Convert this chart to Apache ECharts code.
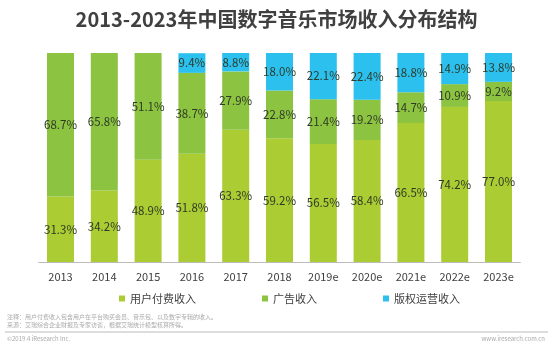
<!DOCTYPE html>
<html><head><meta charset="utf-8">
<script src="https://cdn.jsdelivr.net/npm/echarts@6/dist/echarts.min.js"></script>
<style>html,body{margin:0;padding:0;background:#fff}#c{width:553px;height:347px}</style>
</head><body><div id="c"></div>
<script>
var categories = ['2013','2014','2015','2016','2017','2018','2019e','2020e','2021e','2022e','2023e'];
var userPay = [31.3,34.2,48.9,51.8,63.3,59.2,56.5,58.4,66.5,74.2,77.0];
var adRev = [68.7,65.8,51.1,38.7,27.9,22.8,21.4,19.2,14.7,10.9,9.2];
var copyrightRev = [null,null,null,9.4,8.8,18.0,22.1,22.4,18.8,14.9,13.8];
var seriesNames = ['用户付费收入','广告收入','版权运营收入'];
var title = '2013-2023年中国数字音乐市场收入分布结构';
var noteLines = ['注释：用户付费收入包含用户在平台购买会员、音乐包、以及数字专辑的收入。','来源：艾瑞综合企业财报及专家访谈，根据艾瑞统计模型核算所得。'];

var font = '"Noto Sans CJK SC","Noto Sans",sans-serif';
var colors = ['#abcc32','#8cc340','#2bc0ee'];
var chart = echarts.init(document.getElementById('c'));
function mk(name, data, color){
  return {name:name,type:'bar',stack:'t',data:data,barWidth:27,
    itemStyle:{color:color},
    label:{show:true,position:'inside',color:'#2f3a28',fontSize:11.5,fontFamily:font,
      formatter:function(p){return p.value==null?'':p.value.toFixed(1)+'%';}}};
}
chart.setOption({
  animation:false,
  title:{text:title,left:'center',top:4,textStyle:{fontFamily:font,fontSize:20,fontWeight:'bold',color:'#404040'}},
  grid:{left:38.6,right:32.6,top:53,bottom:85},
  legend:{top:288,left:114,itemWidth:6,itemHeight:6,itemGap:66,icon:'rect',
    textStyle:{fontFamily:font,fontSize:11,color:'#404040'},data:seriesNames},
  xAxis:{type:'category',data:categories,axisTick:{show:false},
    axisLine:{lineStyle:{color:'#bbbbbb'}},
    axisLabel:{fontFamily:font,fontSize:11,color:'#404040',margin:9}},
  yAxis:{type:'value',min:0,max:100,show:false,splitLine:{show:false}},
  graphic:[
    {type:'text',left:7,top:313,style:{text:noteLines.join('\n'),fontFamily:font,fontSize:6,lineHeight:8,fill:'#aaa'}},
    {type:'line',shape:{x1:5,y1:332,x2:548,y2:332},style:{stroke:'#bbb',lineWidth:1}},
    {type:'text',left:7,top:336,style:{text:'©2019.4 iResearch Inc.',fontFamily:font,fontSize:6,fill:'#aaa'}},
    {type:'text',right:8,top:336,style:{text:'www.iresearch.com.cn',fontFamily:font,fontSize:6,fill:'#aaa'}}
  ],
  series:[mk(seriesNames[0],userPay,colors[0]),mk(seriesNames[1],adRev,colors[1]),mk(seriesNames[2],copyrightRev,colors[2])]
});
</script></body></html>
